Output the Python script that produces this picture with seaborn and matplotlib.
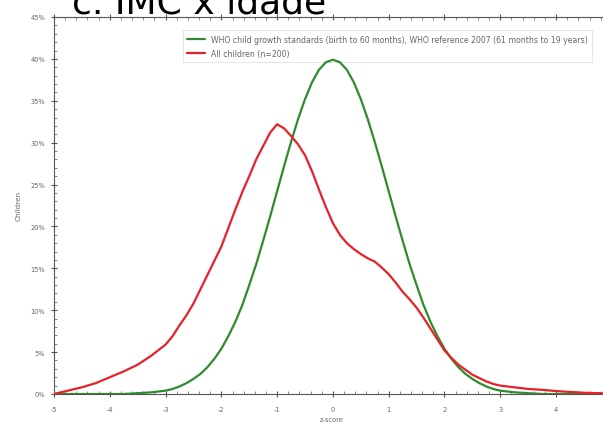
import numpy as np
import pandas as pd
import matplotlib
matplotlib.use("Agg")
import matplotlib.pyplot as plt
import seaborn as sns
from matplotlib.ticker import MultipleLocator, FuncFormatter

# ---- data ----
z_who = [-5, -4.75, -4.5, -4.25, -4, -3.75, -3.5, -3.25, -3, -2.875, -2.75, -2.625,
         -2.5, -2.375, -2.25, -2.125, -2, -1.875, -1.75, -1.625, -1.5, -1.375, -1.25,
         -1.125, -1, -0.875, -0.75, -0.625, -0.5, -0.375, -0.25, -0.125, 0,
         0.125, 0.25, 0.375, 0.5, 0.625, 0.75, 0.875, 1, 1.125, 1.25, 1.375, 1.5,
         1.625, 1.75, 1.875, 2, 2.125, 2.25, 2.375, 2.5, 2.625, 2.75, 2.875, 3,
         3.25, 3.5, 3.75, 4, 4.25, 4.5, 4.75, 5]
pct_who = [0.0, 0.0, 0.0, 0.0, 0.0, 0.0, 0.1, 0.2, 0.4, 0.6, 0.9, 1.3,
           1.8, 2.4, 3.2, 4.2, 5.4, 6.9, 8.6, 10.6, 13.0, 15.5, 18.3,
           21.2, 24.2, 27.2, 30.1, 32.8, 35.2, 37.2, 38.7, 39.6, 39.9,
           39.6, 38.7, 37.2, 35.2, 32.8, 30.1, 27.2, 24.2, 21.2, 18.3, 15.5, 13.0,
           10.6, 8.6, 6.9, 5.4, 4.2, 3.2, 2.4, 1.8, 1.3, 0.9, 0.6, 0.4,
           0.2, 0.1, 0.0, 0.0, 0.0, 0.0, 0.0, 0.0]

z_all = [-5, -4.75, -4.5, -4.25, -4, -3.75, -3.5, -3.25, -3, -2.875, -2.75, -2.625,
         -2.5, -2.375, -2.25, -2.125, -2, -1.875, -1.75, -1.625, -1.5, -1.375, -1.25,
         -1.125, -1, -0.875, -0.75, -0.625, -0.5, -0.375, -0.25, -0.125, 0,
         0.125, 0.25, 0.375, 0.5, 0.625, 0.75, 0.875, 1, 1.125, 1.25, 1.375, 1.5,
         1.625, 1.75, 1.875, 2, 2.125, 2.25, 2.375, 2.5, 2.625, 2.75, 2.875, 3,
         3.25, 3.5, 3.75, 4, 4.25, 4.5, 4.75, 5]
pct_all = [0.0, 0.4, 0.8, 1.3, 2.0, 2.7, 3.5, 4.6, 5.9, 6.9, 8.2, 9.4,
           10.8, 12.5, 14.2, 15.9, 17.6, 19.8, 22.0, 24.1, 26.0, 28.0, 29.6,
           31.2, 32.2, 31.7, 30.8, 29.8, 28.5, 26.6, 24.4, 22.3, 20.4,
           19.0, 18.0, 17.3, 16.7, 16.2, 15.8, 15.1, 14.3, 13.3, 12.2, 11.3, 10.3,
           9.1, 7.8, 6.5, 5.2, 4.3, 3.5, 2.9, 2.3, 1.9, 1.5, 1.2, 1.0,
           0.8, 0.6, 0.5, 0.35, 0.25, 0.15, 0.1, 0.05]

label_who = "WHO child growth standards (birth to 60 months), WHO reference 2007 (61 months to 19 years)"
label_all = "All children (n=200)"
title = "c. IMC x idade"

df = pd.concat([
    pd.DataFrame({"z": z_who, "pct": pct_who, "series": label_who}),
    pd.DataFrame({"z": z_all, "pct": pct_all, "series": label_all}),
])

sns.set_theme(style="white")
plt.rcParams["font.family"] = ["DejaVu Sans"]

fig = plt.figure(figsize=(6.03, 4.27), dpi=100)
ax = fig.add_axes([54 / 603, 32 / 427, 1 - 54 / 603 + 0.01, 377 / 427])

sns.lineplot(data=df, x="z", y="pct", hue="series",
             palette={label_who: "#2e8b2e", label_all: "#e8202a"},
             linewidth=1.6, ax=ax, legend=True, sort=False, zorder=3)

ax.set_xlim(-5, 4.95)
ax.set_ylim(0, 45)
ax.xaxis.set_major_locator(MultipleLocator(1))
ax.xaxis.set_minor_locator(MultipleLocator(0.2))
ax.yaxis.set_major_locator(MultipleLocator(5))
ax.yaxis.set_minor_locator(MultipleLocator(1))
ax.yaxis.set_major_formatter(FuncFormatter(lambda v, p: f"{v:.0f}%"))
ax.xaxis.set_major_formatter(FuncFormatter(lambda v, p: f"{v:.0f}"))

ax.tick_params(axis="both", which="major", direction="inout", length=5, width=0.8,
               color="#555555", labelsize=4.8, labelcolor="#666666", top=True, left=True, bottom=True)
ax.tick_params(axis="both", which="minor", direction="in", length=2.5, width=0.6,
               color="#777777", top=True, left=True, bottom=True)
ax.tick_params(axis="x", which="major", pad=6)
ax.tick_params(axis="y", which="major", pad=4)

for s in ["left", "bottom", "top"]:
    ax.spines[s].set_color("#555555")
    ax.spines[s].set_linewidth(0.8)
ax.spines["right"].set_visible(False)

ax.set_xlabel("z-score", fontsize=4.8, color="#666666", labelpad=3)
ax.set_ylabel("Children", fontsize=5.2, color="#666666", labelpad=6)

leg = ax.legend(loc="upper left", bbox_to_anchor=(0.225, 0.975), fontsize=5.6,
                frameon=True, fancybox=False, handlelength=2.2, borderpad=0.6,
                labelspacing=0.6, title=None, framealpha=0.9)
leg.set_zorder(2)
leg.get_frame().set_edgecolor("#dddddd")
leg.get_frame().set_linewidth(0.6)
for t in leg.get_texts():
    t.set_color("#666666")

fig.text(72 / 603, 1 - 14 / 427, title, fontsize=26, color="black",
         ha="left", va="baseline")

fig.savefig("out.png", dpi=100)
